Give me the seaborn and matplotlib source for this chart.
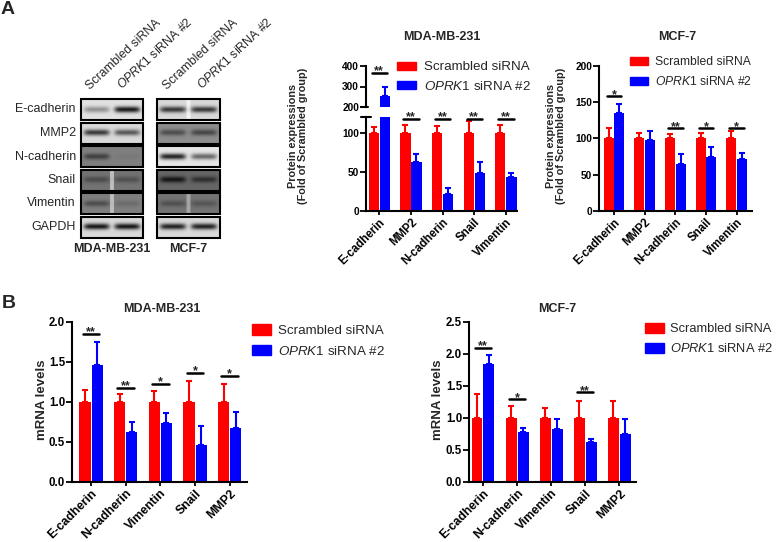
import matplotlib
matplotlib.use("Agg")
import matplotlib.pyplot as plt
from matplotlib.patches import Patch, Rectangle
import numpy as np
import pandas as pd
import seaborn as sns

W, H = 780, 542
RED = "#ff0000"
BLUE = "#0000ff"
SCR = "Scrambled siRNA"
SI = r"$\it{OPRK1}$ siRNA #2"

# ---- panel A: protein (western blot quantification) ----
GENES_A = ["E-cadherin", "MMP2", "N-cadherin", "Snail", "Vimentin"]

mda_prot_scr = [100, 100, 100, 100, 100]
mda_prot_scr_top = [107, 110, 108, 115, 110]
mda_prot_si = [255, 63, 22, 48, 43]
mda_prot_si_top = [300, 73, 29, 62, 48]
mda_prot_sig = ["**", "**", "**", "**", "**"]
mda_prot_sig_y = [367, 118, 118, 118, 118]

mcf_prot_scr = [100, 100, 100, 100, 100]
mcf_prot_scr_top = [115, 108, 106, 108, 111]
mcf_prot_si = [135, 98, 65, 75, 72]
mcf_prot_si_top = [148, 111, 78, 88, 80]
mcf_prot_sig = ["*", "", "**", "*", "*"]
mcf_prot_sig_y = [158, 0, 114, 114, 114]

# ---- panel B: mRNA ----
GENES_B = ["E-cadherin", "N-cadherin", "Vimentin", "Snail", "MMP2"]

mda_mrna_scr = [1.0, 1.0, 1.0, 1.0, 1.0]
mda_mrna_scr_top = [1.15, 1.10, 1.14, 1.26, 1.22]
mda_mrna_si = [1.46, 0.62, 0.74, 0.46, 0.67]
mda_mrna_si_top = [1.75, 0.75, 0.86, 0.70, 0.88]
mda_mrna_sig = ["**", "**", "*", "*", "*"]
mda_mrna_sig_y = [1.85, 1.18, 1.23, 1.36, 1.33]

mcf_mrna_scr = [1.0, 1.0, 1.0, 1.0, 1.0]
mcf_mrna_scr_top = [1.37, 1.18, 1.15, 1.27, 1.26]
mcf_mrna_si = [1.85, 0.78, 0.83, 0.62, 0.75]
mcf_mrna_si_top = [1.98, 0.84, 0.99, 0.67, 0.98]
mcf_mrna_sig = ["**", "*", "", "**", ""]
mcf_mrna_sig_y = [2.10, 1.29, 0, 1.40, 0]

# ---- blot appearance (grey level of membrane, band darkness per lane) ----
BLOT_ROWS = ["E-cadherin", "MMP2", "N-cadherin", "Snail", "Vimentin", "GAPDH"]
MDA_BG = [0.88, 0.85, 0.50, 0.45, 0.50, 0.85]
MDA_BANDS = [[0.35, 0.9], [0.75, 0.6], [0.5, 0.05], [0.35, 0.3], [0.4, 0.15], [0.9, 0.9]]
MDA_SEAM = [0, 0, 0, 0.3, 0.25, 0]
MCF_BG = [0.85, 0.55, 0.90, 0.40, 0.45, 0.85]
MCF_BANDS = [[0.75, 0.75], [0.45, 0.5], [0.85, 0.55], [0.8, 0.55], [0.3, 0.25], [0.85, 0.85]]
MCF_SEAM = [0.1, 0, 0, 0, 0.2, 0]


def rect(x0, y0, x1, y1):
    return [x0 / W, 1 - y1 / H, (x1 - x0) / W, (y1 - y0) / H]


def strip(bg, bands, seam, nw=64, nh=20):
    xs = np.linspace(0, 1, nw)
    ys = np.linspace(-1, 1, nh)
    img = np.full((nh, nw), bg)
    for lane, dark in enumerate(bands):
        cx = 0.25 + 0.5 * lane
        px = np.exp(-((xs - cx) / 0.21) ** 6)
        py = np.exp(-(ys / 0.3) ** 2)
        img = img - dark * bg * np.outer(py, px)
    if seam:
        img[:, (xs > 0.47) & (xs < 0.53)] += seam
    return np.clip(img, 0, 1)


def bars(ax, genes, scr, scr_top, si, si_top):
    df = pd.DataFrame({"gene": genes * 2,
                       "group": [SCR] * len(genes) + [SI] * len(genes),
                       "value": scr + si})
    sns.barplot(data=df, x="gene", y="value", hue="group", order=genes,
                hue_order=[SCR, SI], palette=[RED, BLUE], width=0.7, gap=0.08,
                errorbar=None, legend=False, saturation=1, linewidth=0, ax=ax)
    for cont, tops, col in zip(ax.containers, [scr_top, si_top], [RED, BLUE]):
        xs = [b.get_x() + b.get_width() / 2 for b in cont]
        hs = np.array([b.get_height() for b in cont])
        ax.errorbar(xs, hs, yerr=[np.zeros(len(hs)), np.array(tops) - hs],
                    fmt="none", ecolor=col, elinewidth=1.5, capsize=2.5, capthick=1.5)
    ax.set_xlabel("")
    ax.set_ylabel("")
    for s in ["top", "right"]:
        ax.spines[s].set_visible(False)
    for s in ["left", "bottom"]:
        ax.spines[s].set_linewidth(1.5)
    ax.tick_params(width=1.3, length=4, pad=1)
    ax.tick_params(axis="x", length=3)


def sig(ax, marks, ys, half=0.24, fs=9):
    for i, (m, y) in enumerate(zip(marks, ys)):
        if not m:
            continue
        ax.plot([i - half, i + half], [y, y], color="black", lw=1.8, clip_on=False)
        ax.annotate(m, (i, y), xytext=(0, -1), textcoords="offset points",
                    ha="center", va="baseline", fontsize=fs, fontweight="bold",
                    annotation_clip=False)


def xlabels(ax, genes, fs):
    ax.set_xticks(range(len(genes)))
    ax.set_xticklabels(genes, rotation=45, ha="right", rotation_mode="anchor",
                       fontweight="bold", fontsize=fs)


def legend(ax, x, y, fs, hl, hh, sp, pad=0.6):
    handles = [Patch(color=RED, label=SCR), Patch(color=BLUE, label=SI)]
    ax.legend(handles=handles, loc="center left", bbox_to_anchor=(x / W, 1 - y / H),
              bbox_transform=fig.transFigure, frameon=False, fontsize=fs,
              handlelength=hl, handleheight=hh, handletextpad=pad,
              labelspacing=sp, borderpad=0, borderaxespad=0)


sns.set_theme(style="ticks")
plt.rcParams["font.family"] = ["Liberation Sans", "DejaVu Sans"]
plt.rcParams["mathtext.fontset"] = "custom"
plt.rcParams["mathtext.rm"] = "Liberation Sans"
plt.rcParams["mathtext.it"] = "Liberation Sans:italic"
plt.rcParams["axes.edgecolor"] = "black"
plt.rcParams["xtick.color"] = "black"
plt.rcParams["ytick.color"] = "black"

fig = plt.figure(figsize=(W / 100, H / 100), dpi=100)

# ---- blots ----
bg = fig.add_axes([0, 0, 1, 1], zorder=-1)
bg.axis("off")
row_top0, pitch, row_h = 99, 23.5, 21
for r, name in enumerate(BLOT_ROWS):
    y0 = row_top0 + r * pitch
    y1 = y0 + row_h
    for (x0, x1), bgs, bands, seams in [((81, 143), MDA_BG, MDA_BANDS, MDA_SEAM),
                                         ((157, 220), MCF_BG, MCF_BANDS, MCF_SEAM)]:
        bg.imshow(strip(bgs[r], bands[r], seams[r]), cmap="gray", vmin=0, vmax=1,
                  extent=(x0, x1, y1, y0), aspect="auto", interpolation="bilinear")
        bg.add_patch(Rectangle((x0, y0), x1 - x0, y1 - y0, fill=False, ec="black", lw=1.5))
    bg.text(76, (y0 + y1) / 2, name, ha="right", va="center", fontsize=9)
bg.set_xlim(0, W)
bg.set_ylim(H, 0)

for lx, label in [(90, SCR), (122, SI), (167, SCR), (202, SI)]:
    bg.text(lx, 90, label, rotation=43, ha="left", va="baseline",
            rotation_mode="anchor", fontsize=8.8)
bg.text(112, 249, "MDA-MB-231", ha="center", va="center", fontsize=9, fontweight="bold")
bg.text(188, 249, "MCF-7", ha="center", va="center", fontsize=9, fontweight="bold")
bg.text(8, 10, "A", ha="center", va="center", fontsize=14, fontweight="bold")
bg.text(9, 303, "B", ha="center", va="center", fontsize=14, fontweight="bold")

# ---- A: MDA-MB-231 protein, broken y axis ----
ax_lo = fig.add_axes(rect(366, 117, 517, 211))
ax_up = fig.add_axes(rect(366, 66, 517, 107))
for ax, lim, ticks in [(ax_lo, (0, 120), [0, 50, 100]), (ax_up, (200, 400), [200, 300, 400])]:
    bars(ax, GENES_A, mda_prot_scr, mda_prot_scr_top, mda_prot_si, mda_prot_si_top)
    ax.set_xlim(-0.42, 4.35)
    ax.set_ylim(*lim)
    ax.set_yticks(ticks)
    ax.set_yticklabels([str(t) for t in ticks], fontweight="bold", fontsize=7.3)
xlabels(ax_lo, GENES_A, 8.3)
ax_up.spines["bottom"].set_visible(False)
ax_up.tick_params(axis="x", bottom=False, labelbottom=False)
ax_lo.plot([-0.03, 0.03], [1, 1], color="black", lw=1.5, transform=ax_lo.transAxes, clip_on=False)
ax_up.plot([-0.03, 0.015], [0, 0], color="black", lw=1.5, transform=ax_up.transAxes, clip_on=False)
sig(ax_up, mda_prot_sig[:1], mda_prot_sig_y[:1])
sig(ax_lo, [""] + mda_prot_sig[1:], [0] + mda_prot_sig_y[1:])
legend(ax_up, 397, 77, 9.6, 1.4, 0.6, 0.45)
fig.text(442 / W, 1 - 37 / H, "MDA-MB-231", ha="center", va="center", fontsize=9, fontweight="bold")
fig.text(298 / W, 1 - 136 / H, "Protein expressions\n(Fold of Scrambled group)", rotation=90,
         ha="center", va="center", fontsize=7.8, fontweight="bold", linespacing=1.1)

# ---- A: MCF-7 protein ----
ax = fig.add_axes(rect(599, 66, 752, 211))
bars(ax, GENES_A, mcf_prot_scr, mcf_prot_scr_top, mcf_prot_si, mcf_prot_si_top)
ax.set_xlim(-0.49, 4.5)
ax.set_ylim(0, 200)
ax.set_yticks([0, 50, 100, 150, 200])
ax.set_yticklabels(["0", "50", "100", "150", "200"], fontweight="bold", fontsize=7.3)
xlabels(ax, GENES_A, 8.3)
sig(ax, mcf_prot_sig, mcf_prot_sig_y)
legend(ax, 630, 72, 8.7, 1.5, 0.66, 0.55)
fig.text(677 / W, 1 - 37 / H, "MCF-7", ha="center", va="center", fontsize=9, fontweight="bold")
fig.text(556 / W, 1 - 136 / H, "Protein expressions\n(Fold of Scrambled group)", rotation=90,
         ha="center", va="center", fontsize=7.8, fontweight="bold", linespacing=1.1)

# ---- B: mRNA ----
for box, xl, lim, ticks, data, title, tx, lab_x, leg in [
        ((72, 322, 247, 482), (-0.55, 4.5), (0, 2.0), [0, 0.5, 1.0, 1.5, 2.0],
         (mda_mrna_scr, mda_mrna_scr_top, mda_mrna_si, mda_mrna_si_top, mda_mrna_sig, mda_mrna_sig_y),
         "MDA-MB-231", 162, 42, (252, 341, 9.6)),
        ((469, 322, 636, 482), (-0.41, 4.49), (0, 2.5), [0, 0.5, 1.0, 1.5, 2.0, 2.5],
         (mcf_mrna_scr, mcf_mrna_scr_top, mcf_mrna_si, mcf_mrna_si_top, mcf_mrna_sig, mcf_mrna_sig_y),
         "MCF-7", 557, 438, (645, 339, 9.3))]:
    ax = fig.add_axes(rect(*box))
    scr, scr_top, si, si_top, marks, marks_y = data
    bars(ax, GENES_B, scr, scr_top, si, si_top)
    ax.set_xlim(*xl)
    ax.set_ylim(*lim)
    ax.set_yticks(ticks)
    ax.set_yticklabels([f"{t:.1f}" for t in ticks], fontweight="bold", fontsize=8.3)
    xlabels(ax, GENES_B, 8.8)
    sig(ax, marks, marks_y)
    legend(ax, leg[0], leg[1], leg[2], 1.45, 0.8, 0.55, pad=0.5)
    fig.text(tx / W, 1 - 309 / H, title, ha="center", va="center", fontsize=9, fontweight="bold")
    fig.text(lab_x / W, 1 - 400 / H, "mRNA levels", rotation=90, ha="center", va="center",
             fontsize=9.5, fontweight="bold")

fig.savefig("out.png", dpi=100)
